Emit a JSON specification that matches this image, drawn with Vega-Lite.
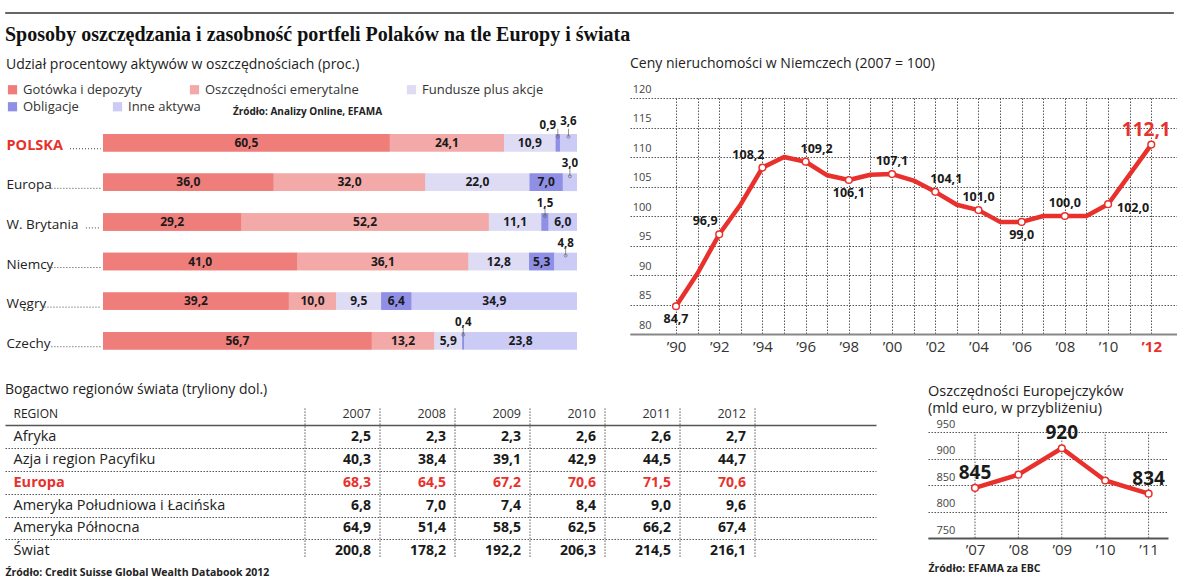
{
  "$schema": "https://vega.github.io/schema/vega-lite/v6.json",
  "background": "white",
  "padding": {"left": 4, "top": 11, "right": 0, "bottom": 0},
  "config": {
    "font": "Open Sans",
    "locale": {"number": {"decimal": ",", "thousands": " ", "grouping": [3], "currency": ["", " zł"]}},
    "view": {"stroke": null},
    "axis": {"labelFont": "Open Sans", "titleFont": "Open Sans"},
    "legend": {"labelFont": "Open Sans", "titleFont": "Open Sans"},
    "title": {"font": "Open Sans"}
  },
  "spacing": 11,
  "resolve": {"legend": {"color": "independent"}},
  "vconcat": [
    {
      "width": 1168,
      "height": 1,
      "data": {"values": [{"a": 1}]},
      "mark": {"type": "point", "opacity": 0, "size": 0},
      "view": {"stroke": "#666", "strokeWidth": 1, "fill": "#666"},
      "title": {"text": "Sposoby oszczędzania i zasobność portfeli Polaków na tle Europy i świata", "orient": "bottom", "anchor": "start", "frame": "group", "font": "Liberation Serif", "fontSize": 20, "fontWeight": "bold", "color": "#111", "offset": 12}
    },
    {
      "spacing": 20,
      "resolve": {"legend": {"color": "independent"}},
      "vconcat": [
        {
          "bounds": "flush",
          "spacing": 52,
          "resolve": {"legend": {"color": "independent"}},
          "hconcat": [
            {
              "width": 573,
              "height": 264.1,
              "data": {"values": [
                {"country": "POLSKA", "category": "Gotówka i depozyty", "k": 1, "value": 60.5},
                {"country": "POLSKA", "category": "Oszczędności emerytalne", "k": 2, "value": 24.1},
                {"country": "POLSKA", "category": "Fundusze plus akcje", "k": 3, "value": 10.9},
                {"country": "POLSKA", "category": "Obligacje", "k": 4, "value": 0.9},
                {"country": "POLSKA", "category": "Inne aktywa", "k": 5, "value": 3.6},
                {"country": "Europa", "category": "Gotówka i depozyty", "k": 1, "value": 36.0},
                {"country": "Europa", "category": "Oszczędności emerytalne", "k": 2, "value": 32.0},
                {"country": "Europa", "category": "Fundusze plus akcje", "k": 3, "value": 22.0},
                {"country": "Europa", "category": "Obligacje", "k": 4, "value": 7.0},
                {"country": "Europa", "category": "Inne aktywa", "k": 5, "value": 3.0},
                {"country": "W. Brytania", "category": "Gotówka i depozyty", "k": 1, "value": 29.2},
                {"country": "W. Brytania", "category": "Oszczędności emerytalne", "k": 2, "value": 52.2},
                {"country": "W. Brytania", "category": "Fundusze plus akcje", "k": 3, "value": 11.1},
                {"country": "W. Brytania", "category": "Obligacje", "k": 4, "value": 1.5},
                {"country": "W. Brytania", "category": "Inne aktywa", "k": 5, "value": 6.0},
                {"country": "Niemcy", "category": "Gotówka i depozyty", "k": 1, "value": 41.0},
                {"country": "Niemcy", "category": "Oszczędności emerytalne", "k": 2, "value": 36.1},
                {"country": "Niemcy", "category": "Fundusze plus akcje", "k": 3, "value": 12.8},
                {"country": "Niemcy", "category": "Obligacje", "k": 4, "value": 5.3},
                {"country": "Niemcy", "category": "Inne aktywa", "k": 5, "value": 4.8},
                {"country": "Węgry", "category": "Gotówka i depozyty", "k": 1, "value": 39.2},
                {"country": "Węgry", "category": "Oszczędności emerytalne", "k": 2, "value": 10.0},
                {"country": "Węgry", "category": "Fundusze plus akcje", "k": 3, "value": 9.5},
                {"country": "Węgry", "category": "Obligacje", "k": 4, "value": 6.4},
                {"country": "Węgry", "category": "Inne aktywa", "k": 5, "value": 34.9},
                {"country": "Czechy", "category": "Gotówka i depozyty", "k": 1, "value": 56.7},
                {"country": "Czechy", "category": "Oszczędności emerytalne", "k": 2, "value": 13.2},
                {"country": "Czechy", "category": "Fundusze plus akcje", "k": 3, "value": 5.9},
                {"country": "Czechy", "category": "Obligacje", "k": 4, "value": 0.4},
                {"country": "Czechy", "category": "Inne aktywa", "k": 5, "value": 23.8}
              ]},
              "transform": [
                {"stack": "value", "groupby": ["country"], "sort": [{"field": "k", "order": "ascending"}], "as": ["v0", "v1"]},
                {"calculate": "(datum.v0 + datum.v1) / 2", "as": "mid"}
              ],
              "resolve": {"scale": {"color": "independent"}, "legend": {"color": "independent"}},
              "encoding": {
                "y": {
                  "field": "country", "type": "nominal",
                  "sort": ["POLSKA", "Europa", "W. Brytania", "Niemcy", "Węgry", "Czechy"],
                  "scale": {"type": "band", "paddingInner": 0.56, "paddingOuter": 0.6145, "align": 0.74},
                  "axis": {
                    "title": null, "domain": false, "ticks": false, "tickSize": 0,
                    "labelAlign": "left", "labelPadding": -1, "labelLimit": 200, "labelBaseline": "middle", "labelOffset": 3,
                    "labelFontSize": {"condition": {"test": "datum.value == 'POLSKA'", "value": 14.5}, "value": 13.5},
                    "labelFontWeight": {"condition": {"test": "datum.value == 'POLSKA'", "value": "bold"}, "value": "normal"},
                    "labelColor": {"condition": {"test": "datum.value == 'POLSKA'", "value": "#e8312c"}, "value": "#222"}
                  }
                }
              },
              "layer": [
                {
                  "mark": {"type": "bar"},
                  "encoding": {
                    "x": {"field": "v0", "type": "quantitative", "scale": {"domain": [-20.675, 100.21], "nice": false, "zero": false}, "axis": null},
                    "x2": {"field": "v1"},
                    "color": {
                      "field": "category", "type": "nominal",
                      "scale": {
                        "domain": ["Gotówka i depozyty", "Oszczędności emerytalne", "Fundusze plus akcje", "Obligacje", "Inne aktywa"],
                        "range": ["#ef7d7a", "#f2a9a8", "#dddcf4", "#8f8fe6", "#cbcbf6"]
                      },
                      "legend": {
                        "orient": "none", "legendX": 1, "legendY": -40,
                        "direction": "horizontal",
                        "values": ["Gotówka i depozyty", "Oszczędności emerytalne", "Fundusze plus akcje"],
                        "title": "Udział procentowy aktywów w oszczędnościach (proc.)",
                        "titleFontSize": 14, "titleFontWeight": "normal", "titleColor": "#222", "titleLimit": 600, "titlePadding": 11,
                        "labelFontSize": 13, "labelColor": "#333", "labelLimit": 300,
                        "symbolType": "square", "symbolSize": 85, "symbolStrokeWidth": 0,
                        "columnPadding": 46, "labelOffset": 4
                      }
                    }
                  }
                },
                {
                  "mark": {"type": "bar"},
                  "encoding": {
                    "x": {"field": "v0", "type": "quantitative", "scale": {"domain": [-20.675, 100.21], "nice": false, "zero": false}, "axis": null},
                    "x2": {"field": "v1"},
                    "color": {
                      "field": "category", "type": "nominal",
                      "scale": {
                        "domain": ["Gotówka i depozyty", "Oszczędności emerytalne", "Fundusze plus akcje", "Obligacje", "Inne aktywa"],
                        "range": ["#ef7d7a", "#f2a9a8", "#dddcf4", "#8f8fe6", "#cbcbf6"]
                      },
                      "legend": {
                        "orient": "none", "legendX": 1, "legendY": 2,
                        "direction": "horizontal",
                        "values": ["Obligacje", "Inne aktywa"],
                        "title": null,
                        "labelFontSize": 13, "labelColor": "#333", "labelLimit": 300,
                        "symbolType": "square", "symbolSize": 85, "symbolStrokeWidth": 0,
                        "columnPadding": 32, "labelOffset": 4
                      }
                    }
                  }
                },
                {
                  "transform": [{"filter": "datum.value >= 5"}],
                  "mark": {"type": "text", "fontSize": 12, "fontWeight": "bold", "color": "#1a1a1a"},
                  "encoding": {
                    "x": {"field": "mid", "type": "quantitative", "scale": {"domain": [-20.675, 100.21], "nice": false, "zero": false}, "axis": null},
                    "text": {"field": "value", "type": "quantitative", "format": ".1f"}
                  }
                },
                {
                  "transform": [{"filter": "datum.value < 5 && datum.country != 'POLSKA'"}],
                  "mark": {"type": "text", "fontSize": 11.5, "fontWeight": "bold", "color": "#1a1a1a", "yOffset": -18},
                  "encoding": {
                    "x": {"field": "mid", "type": "quantitative", "scale": {"domain": [-20.675, 100.21], "nice": false, "zero": false}, "axis": null},
                    "text": {"field": "value", "type": "quantitative", "format": ".1f"}
                  }
                },
                {
                  "transform": [{"filter": "datum.country == 'POLSKA' && datum.k == 4"}],
                  "mark": {"type": "text", "fontSize": 11.5, "fontWeight": "bold", "color": "#1a1a1a", "yOffset": -17, "xOffset": -10},
                  "encoding": {
                    "x": {"field": "mid", "type": "quantitative", "scale": {"domain": [-20.675, 100.21], "nice": false, "zero": false}, "axis": null},
                    "text": {"field": "value", "type": "quantitative", "format": ".1f"}
                  }
                },
                {
                  "transform": [{"filter": "datum.country == 'POLSKA' && datum.k == 5"}],
                  "mark": {"type": "text", "fontSize": 11.5, "fontWeight": "bold", "color": "#1a1a1a", "yOffset": -21},
                  "encoding": {
                    "x": {"field": "mid", "type": "quantitative", "scale": {"domain": [-20.675, 100.21], "nice": false, "zero": false}, "axis": null},
                    "text": {"field": "value", "type": "quantitative", "format": ".1f"}
                  }
                },
                {
                  "transform": [{"filter": "datum.value < 5"}],
                  "mark": {"type": "tick", "orient": "vertical", "size": 8, "thickness": 1, "color": "#666", "yOffset": -10},
                  "encoding": {
                    "x": {"field": "mid", "type": "quantitative", "scale": {"domain": [-20.675, 100.21], "nice": false, "zero": false}, "axis": null}
                  }
                },
                {
                  "transform": [{"filter": "datum.value < 5"}],
                  "mark": {"type": "point", "size": 9, "filled": false, "color": "#666", "strokeWidth": 1, "yOffset": -6},
                  "encoding": {
                    "x": {"field": "mid", "type": "quantitative", "scale": {"domain": [-20.675, 100.21], "nice": false, "zero": false}, "axis": null}
                  }
                },
                {
                  "transform": [
                    {"filter": "datum.k == 1"},
                    {"calculate": "(9 + (datum.country == 'POLSKA' ? 60 : length(datum.country) * 6.9) - 102) / 4.74", "as": "d0"}
                  ],
                  "mark": {"type": "rule", "strokeDash": [1, 2], "color": "#444", "strokeWidth": 1, "yOffset": 6},
                  "encoding": {
                    "x": {"field": "d0", "type": "quantitative", "scale": {"domain": [-20.675, 100.21], "nice": false, "zero": false}, "axis": null},
                    "x2": {"datum": -0.5}
                  }
                },
                {
                  "data": {"values": [{"t": "Źródło: Analizy Online, EFAMA"}]},
                  "mark": {"type": "text", "align": "left", "fontSize": 10, "fontWeight": "bold", "color": "#222", "yOffset": -31},
                  "encoding": {
                    "x": {"datum": 27.4, "scale": {"domain": [-20.675, 100.21], "nice": false, "zero": false}, "axis": null},
                    "y": {"datum": "POLSKA"},
                    "text": {"field": "t"}
                  }
                }
              ]
            },
            {
              "width": 547,
              "height": 236,
              "title": {"text": "Ceny nieruchomości w Niemczech (2007 = 100)", "anchor": "start", "frame": "group", "fontSize": 14, "fontWeight": "normal", "color": "#222", "offset": 12},
              "data": {"values": [
                {"year": 1990, "value": 84.7}, {"year": 1991, "value": 90.3}, {"year": 1992, "value": 96.9},
                {"year": 1993, "value": 102.0}, {"year": 1994, "value": 108.2}, {"year": 1995, "value": 110.0},
                {"year": 1996, "value": 109.2}, {"year": 1997, "value": 106.9}, {"year": 1998, "value": 106.1},
                {"year": 1999, "value": 107.0}, {"year": 2000, "value": 107.1}, {"year": 2001, "value": 106.0},
                {"year": 2002, "value": 104.1}, {"year": 2003, "value": 101.9}, {"year": 2004, "value": 101.0},
                {"year": 2005, "value": 99.0}, {"year": 2006, "value": 99.0}, {"year": 2007, "value": 100.0},
                {"year": 2008, "value": 100.0}, {"year": 2009, "value": 100.0}, {"year": 2010, "value": 102.0},
                {"year": 2012, "value": 112.1}
              ]},
              "encoding": {
                "x": {
                  "field": "year", "type": "quantitative",
                  "scale": {"domain": [1987.87, 2013.19], "nice": false, "zero": false},
                  "axis": {
                    "values": [1990, 1991, 1992, 1993, 1994, 1995, 1996, 1997, 1998, 1999, 2000, 2001, 2002, 2003, 2004, 2005, 2006, 2007, 2008, 2009, 2010, 2011, 2012],
                    "labelExpr": "datum.value % 2 == 0 ? '’' + substring(toString(datum.value), 2) : ''",
                    "labelOverlap": false, "labelFlush": false,
                    "labelFontSize": 15, "labelPadding": 5,
                    "labelColor": {"condition": {"test": "datum.value == 2012", "value": "#e8312c"}, "value": "#333"},
                    "labelFontWeight": {"condition": {"test": "datum.value == 2012", "value": "bold"}, "value": "normal"},
                    "ticks": false, "tickSize": 0, "domain": true, "domainColor": "#888", "domainWidth": 2,
                    "grid": true, "gridDash": [1.5, 1.5], "gridColor": "#555", "gridWidth": 1,
                    "title": null
                  }
                },
                "y": {
                  "field": "value", "type": "quantitative",
                  "scale": {"domain": [80, 120], "nice": false, "zero": false},
                  "axis": {
                    "values": [80, 85, 90, 95, 100, 105, 110, 115, 120],
                    "labelAlign": "right", "labelPadding": -21, "labelOffset": -9, "labelBaseline": "middle",
                    "labelFontSize": 11, "labelColor": "#444",
                    "domain": false, "ticks": false, "tickSize": 0,
                    "grid": true, "gridDash": [1.5, 1.5], "gridColor": "#555", "gridWidth": 1,
                    "title": null
                  }
                }
              },
              "layer": [
                {"mark": {"type": "line", "color": "#e8312c", "strokeWidth": 4.5, "strokeJoin": "round"}},
                {
                  "transform": [{"filter": "datum.year % 2 == 0"}],
                  "mark": {"type": "point", "filled": true, "fill": "white", "stroke": "#e8312c", "strokeWidth": 1.5, "size": 45, "opacity": 1}
                },
                {
                  "transform": [{"filter": {"field": "year", "oneOf": [2000, 2004, 2008]}}],
                  "mark": {"type": "text", "fontSize": 12.5, "fontWeight": "bold", "color": "#1a1a1a", "dy": -13},
                  "encoding": {"text": {"field": "value", "type": "quantitative", "format": ".1f"}}
                },
                {
                  "transform": [{"filter": {"field": "year", "oneOf": [1990, 1998, 2006]}}],
                  "mark": {"type": "text", "fontSize": 12.5, "fontWeight": "bold", "color": "#1a1a1a", "dy": 13},
                  "encoding": {"text": {"field": "value", "type": "quantitative", "format": ".1f"}}
                },
                {
                  "transform": [{"filter": {"field": "year", "oneOf": [1992, 1994]}}],
                  "mark": {"type": "text", "fontSize": 12.5, "fontWeight": "bold", "color": "#1a1a1a", "dx": -14, "dy": -13},
                  "encoding": {"text": {"field": "value", "type": "quantitative", "format": ".1f"}}
                },
                {
                  "transform": [{"filter": {"field": "year", "oneOf": [1996, 2002]}}],
                  "mark": {"type": "text", "fontSize": 12.5, "fontWeight": "bold", "color": "#1a1a1a", "dx": 11, "dy": -13},
                  "encoding": {"text": {"field": "value", "type": "quantitative", "format": ".1f"}}
                },
                {
                  "transform": [{"filter": {"field": "year", "oneOf": [2010]}}],
                  "mark": {"type": "text", "fontSize": 12.5, "fontWeight": "bold", "color": "#1a1a1a", "dx": 25, "dy": 4},
                  "encoding": {"text": {"field": "value", "type": "quantitative", "format": ".1f"}}
                },
                {
                  "transform": [{"filter": {"field": "year", "oneOf": [2012]}}],
                  "mark": {"type": "text", "fontSize": 19, "fontWeight": "bold", "color": "#e8312c", "dx": -5, "dy": -15},
                  "encoding": {"text": {"field": "value", "type": "quantitative", "format": ".1f"}}
                },
                {
                  "data": {"values": [{"t": "Źródło: EBC"}]},
                  "mark": {"type": "text", "align": "left", "fontSize": 10.5, "fontWeight": "bold", "color": "#333"},
                  "encoding": {
                    "x": {"datum": 1990.7},
                    "y": {"datum": 117},
                    "text": {"field": "t"}
                  }
                }
              ]
            }
          ]
        },
        {
          "bounds": "flush",
          "spacing": 52,
          "resolve": {"legend": {"color": "independent"}},
          "hconcat": [
            {
              "width": 871,
              "height": 159.6,
              "title": {"text": "Bogactwo regionów świata (tryliony dol.)", "anchor": "start", "frame": "group", "fontSize": 14, "fontWeight": "normal", "color": "#222", "offset": 6},
              "data": {"values": [
                {"region": "Afryka", "year": 2007, "value": 2.5}, {"region": "Afryka", "year": 2008, "value": 2.3}, {"region": "Afryka", "year": 2009, "value": 2.3},
                {"region": "Afryka", "year": 2010, "value": 2.6}, {"region": "Afryka", "year": 2011, "value": 2.6}, {"region": "Afryka", "year": 2012, "value": 2.7},
                {"region": "Azja i region Pacyfiku", "year": 2007, "value": 40.3}, {"region": "Azja i region Pacyfiku", "year": 2008, "value": 38.4}, {"region": "Azja i region Pacyfiku", "year": 2009, "value": 39.1},
                {"region": "Azja i region Pacyfiku", "year": 2010, "value": 42.9}, {"region": "Azja i region Pacyfiku", "year": 2011, "value": 44.5}, {"region": "Azja i region Pacyfiku", "year": 2012, "value": 44.7},
                {"region": "Europa", "year": 2007, "value": 68.3}, {"region": "Europa", "year": 2008, "value": 64.5}, {"region": "Europa", "year": 2009, "value": 67.2},
                {"region": "Europa", "year": 2010, "value": 70.6}, {"region": "Europa", "year": 2011, "value": 71.5}, {"region": "Europa", "year": 2012, "value": 70.6},
                {"region": "Ameryka Południowa i Łacińska", "year": 2007, "value": 6.8}, {"region": "Ameryka Południowa i Łacińska", "year": 2008, "value": 7.0}, {"region": "Ameryka Południowa i Łacińska", "year": 2009, "value": 7.4},
                {"region": "Ameryka Południowa i Łacińska", "year": 2010, "value": 8.4}, {"region": "Ameryka Południowa i Łacińska", "year": 2011, "value": 9.0}, {"region": "Ameryka Południowa i Łacińska", "year": 2012, "value": 9.6},
                {"region": "Ameryka Północna", "year": 2007, "value": 64.9}, {"region": "Ameryka Północna", "year": 2008, "value": 51.4}, {"region": "Ameryka Północna", "year": 2009, "value": 58.5},
                {"region": "Ameryka Północna", "year": 2010, "value": 62.5}, {"region": "Ameryka Północna", "year": 2011, "value": 66.2}, {"region": "Ameryka Północna", "year": 2012, "value": 67.4},
                {"region": "Świat", "year": 2007, "value": 200.8}, {"region": "Świat", "year": 2008, "value": 178.2}, {"region": "Świat", "year": 2009, "value": 192.2},
                {"region": "Świat", "year": 2010, "value": 206.3}, {"region": "Świat", "year": 2011, "value": 214.5}, {"region": "Świat", "year": 2012, "value": 216.1}
              ]},
              "encoding": {
                "x": {
                  "field": "year", "type": "quantitative",
                  "scale": {"domain": [2002.12, 2013.733], "nice": false, "zero": false},
                  "axis": {
                    "orient": "bottom", "labels": false, "ticks": false, "domain": false, "grid": false,
                    "title": "Źródło: Credit Suisse Global Wealth Databook 2012",
                    "titleAnchor": "start", "titleAlign": "left", "titleFontSize": 10.5, "titleFontWeight": "bold", "titleColor": "#222", "titlePadding": 5
                  }
                },
                "y": {
                  "field": "region", "type": "nominal",
                  "scale": {"type": "band", "domain": ["REGION", "Afryka", "Azja i region Pacyfiku", "Europa", "Ameryka Południowa i Łacińska", "Ameryka Północna", "Świat"], "paddingInner": 0, "paddingOuter": 0},
                  "axis": {
                    "title": null, "domain": false, "ticks": false, "tickSize": 0, "bandPosition": 0,
                    "labelAlign": "left", "labelPadding": -8, "labelLimit": 400, "labelBaseline": "middle",
                    "labelFontSize": {"condition": {"test": "datum.value == 'REGION'", "value": 12}, "value": 14.5},
                    "labelColor": {"condition": {"test": "datum.value == 'Europa'", "value": "#e8312c"}, "value": "#222"},
                    "labelFontWeight": {"condition": {"test": "datum.value == 'Europa'", "value": "bold"}, "value": "normal"},
                    "grid": true,
                    "gridColor": {"condition": {"test": "datum.value == 'REGION'", "value": "transparent"}, "value": "#555"},
                    "gridDash": {"condition": {"test": "datum.value == 'Afryka'", "value": []}, "value": [1.5, 1.5]},
                    "gridWidth": {"condition": {"test": "datum.value == 'Afryka'", "value": 1.5}, "value": 1}
                  }
                }
              },
              "layer": [
                {
                  "mark": {"type": "text", "align": "right", "fontSize": 14, "fontWeight": "bold"},
                  "encoding": {
                    "text": {"field": "value", "type": "quantitative", "format": ".1f"},
                    "color": {"condition": {"test": "datum.region == 'Europa'", "value": "#e8312c"}, "value": "#1a1a1a"}
                  }
                },
                {
                  "data": {"values": [{"year": 2007}, {"year": 2008}, {"year": 2009}, {"year": 2010}, {"year": 2011}, {"year": 2012}]},
                  "layer": [
                    {
                      "mark": {"type": "text", "align": "right", "fontSize": 12.5, "color": "#333"},
                      "encoding": {
                        "y": {"datum": "REGION"},
                        "text": {"field": "year", "type": "quantitative", "format": "d"}
                      }
                    },
                    {
                      "mark": {"type": "rule", "strokeDash": [1.5, 1.5], "color": "#555", "xOffset": 9, "yOffset": -6, "y2Offset": 7},
                      "encoding": {
                        "y": {"datum": "REGION"},
                        "y2": {"datum": "Świat"}
                      }
                    }
                  ]
                },
                {
                  "data": {"values": [{"year": 2007}]},
                  "mark": {"type": "rule", "strokeDash": [1.5, 1.5], "color": "#555", "xOffset": -66, "yOffset": -6, "y2Offset": 7},
                  "encoding": {
                    "y": {"datum": "REGION"},
                    "y2": {"datum": "Świat"}
                  }
                },
                {
                  "data": {"values": [
                    {"region": "Afryka", "change": 0.08}, {"region": "Azja i region Pacyfiku", "change": 0.1092},
                    {"region": "Europa", "change": 0.0337}, {"region": "Ameryka Południowa i Łacińska", "change": 0.4118},
                    {"region": "Ameryka Północna", "change": 0.0385}, {"region": "Świat", "change": 0.0762}
                  ]},
                  "mark": {"type": "text", "align": "right", "fontSize": 14, "fontWeight": "bold"},
                  "encoding": {
                    "x": {"datum": 2013.72},
                    "text": {"field": "change", "type": "quantitative", "format": ".2%"},
                    "color": {"condition": {"test": "datum.region == 'Europa'", "value": "#e8312c"}, "value": "#1a1a1a"}
                  }
                },
                {
                  "data": {"values": [{"t": "ZMIANA 5 LAT"}]},
                  "mark": {"type": "text", "align": "right", "fontSize": 12, "color": "#333"},
                  "encoding": {
                    "x": {"datum": 2013.72},
                    "y": {"datum": "REGION"},
                    "text": {"field": "t"}
                  }
                },
                {
                  "data": {"values": [{"t": ":·"}]},
                  "mark": {"type": "text", "align": "center", "fontSize": 12, "fontWeight": "bold", "color": "#e8312c"},
                  "encoding": {
                    "x": {"datum": 2002.16},
                    "y": {"datum": "Europa"},
                    "text": {"field": "t"}
                  }
                }
              ]
            },
            {
              "width": 240,
              "height": 135.1,
              "title": {"text": ["Oszczędności Europejczyków", "(mld euro, w przybliżeniu)"], "anchor": "start", "frame": "group", "fontSize": 14.5, "fontWeight": "normal", "color": "#222", "lineHeight": 17, "offset": -13},
              "data": {"values": [
                {"year": 2007, "value": 845}, {"year": 2008, "value": 870}, {"year": 2009, "value": 920},
                {"year": 2010, "value": 859}, {"year": 2011, "value": 834}
              ]},
              "encoding": {
                "x": {
                  "field": "year", "type": "quantitative",
                  "scale": {"domain": [2005.917, 2011.447], "nice": false, "zero": false},
                  "axis": {
                    "values": [2007, 2008, 2009, 2010, 2011],
                    "labelExpr": "'’' + substring(toString(datum.value), 2)",
                    "labelFontSize": 15, "labelColor": "#333", "labelPadding": 4, "labelOverlap": false, "labelFlush": false,
                    "ticks": false, "tickSize": 0, "domain": true, "domainColor": "#555", "domainWidth": 2,
                    "grid": false,
                    "title": "Źródło: EFAMA za EBC", "titleAnchor": "start", "titleAlign": "left",
                    "titleFontSize": 10.5, "titleFontWeight": "bold", "titleColor": "#222", "titlePadding": 6
                  }
                },
                "y": {
                  "field": "value", "type": "quantitative",
                  "scale": {"domain": [750, 1005.6], "nice": false, "zero": false},
                  "axis": {
                    "values": [750, 800, 850, 900, 950],
                    "labelAlign": "left", "labelPadding": -8, "labelOffset": -8, "labelBaseline": "middle",
                    "labelFontSize": 11, "labelColor": "#444",
                    "domain": false, "ticks": false, "tickSize": 0,
                    "grid": true, "gridDash": [1.5, 1.5], "gridColor": "#555", "gridWidth": 1,
                    "title": null
                  }
                }
              },
              "layer": [
                {
                  "mark": {"type": "rule", "strokeDash": [1.5, 1.5], "color": "#555", "strokeWidth": 1},
                  "encoding": {"y": {"datum": 750}, "y2": {"datum": 950}}
                },
                {"mark": {"type": "line", "color": "#e8312c", "strokeWidth": 4.5, "strokeJoin": "round"}},
                {"mark": {"type": "point", "filled": true, "fill": "white", "stroke": "#e8312c", "strokeWidth": 1.5, "size": 45, "opacity": 1}},
                {
                  "transform": [{"filter": {"field": "year", "oneOf": [2007, 2009, 2011]}}],
                  "mark": {"type": "text", "fontSize": 19, "fontWeight": "bold", "color": "#1a1a1a", "dy": -15},
                  "encoding": {"text": {"field": "value", "type": "quantitative", "format": "d"}}
                },
                {
                  "data": {"values": [{"t": "ŁR"}]},
                  "mark": {"type": "text", "align": "right", "fontSize": 7, "fontWeight": "bold", "color": "#333", "yOffset": 37},
                  "encoding": {
                    "x": {"datum": 2011.447},
                    "y": {"datum": 750},
                    "text": {"field": "t"}
                  }
                }
              ]
            }
          ]
        }
      ]
    }
  ]
}
